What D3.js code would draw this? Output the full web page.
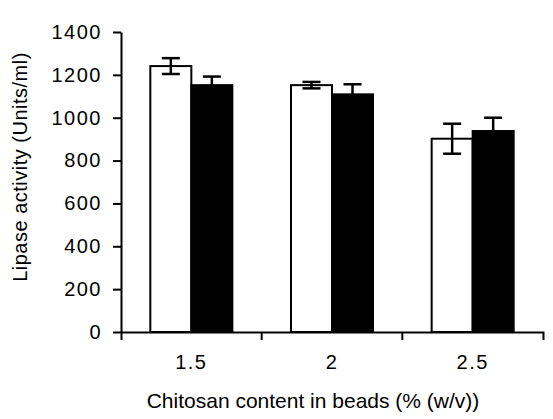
<!DOCTYPE html>
<html>
<head>
<meta charset="utf-8">
<script src="https://cdn.jsdelivr.net/npm/d3@7"></script>
<style>
  body { margin: 0; background: #fff; }
  svg { display: block; }
  text { font-family: "Liberation Sans", Arial, sans-serif; fill: #000; }
</style>
</head>
<body>
<div id="chart"></div>
<script>
// chitosan content categories
var categories = ["1.5", "2", "2.5"];
// series names (open and filled bars)
var seriesKeys = ["open", "filled"];
// lipase activity values (Units/ml)
var openValues = [1241, 1152, 902];
var openErrors = [37, 15, 70];
var filledValues = [1152, 1109, 938];
var filledErrors = [40, 47, 62];
var yTicks = [0, 200, 400, 600, 800, 1000, 1200, 1400];

function init() {
    var w = 553;
    var h = 419;
    var left = 121, right = 543, top = 32, bottom = 332;

    var dataset = [];
    categories.forEach(function(c, i) {
        dataset.push({cat: c, key: "open", value: openValues[i], err: openErrors[i]});
        dataset.push({cat: c, key: "filled", value: filledValues[i], err: filledErrors[i]});
    });

    var xScale = d3.scaleBand()
                   .domain(categories)
                   .range([left, right])
                   .padding(0);
    var x1 = d3.scaleBand()
               .domain(seriesKeys)
               .range([0, xScale.bandwidth()])
               .paddingInner(0)
               .paddingOuter(0.715);
    var yScale = d3.scaleLinear()
                   .domain([0, 1400])
                   .range([bottom, top]);

    var svg = d3.select("#chart")
                .append("svg")
                .attr("width", w)
                .attr("height", h);

    // bars
    svg.selectAll("rect.bar")
       .data(dataset)
       .enter()
       .append("rect")
       .attr("class", "bar")
       .attr("x", function(d) { return xScale(d.cat) + x1(d.key); })
       .attr("y", function(d) { return yScale(d.value); })
       .attr("width", x1.bandwidth())
       .attr("height", function(d) { return yScale(0) - yScale(d.value); })
       .attr("fill", function(d) { return d.key === "open" ? "#fff" : "#000"; })
       .attr("stroke", "#000")
       .attr("stroke-width", 2);

    // error bars
    var cap = 9;
    var eb = svg.selectAll("g.err")
                .data(dataset)
                .enter()
                .append("g")
                .attr("class", "err")
                .attr("stroke", "#000")
                .attr("stroke-width", 2.5);
    eb.append("line")
      .attr("x1", function(d) { return xScale(d.cat) + x1(d.key) + x1.bandwidth() / 2; })
      .attr("x2", function(d) { return xScale(d.cat) + x1(d.key) + x1.bandwidth() / 2; })
      .attr("y1", function(d) { return yScale(d.value + d.err); })
      .attr("y2", function(d) { return yScale(d.value - d.err); });
    eb.append("line")
      .attr("x1", function(d) { return xScale(d.cat) + x1(d.key) + x1.bandwidth() / 2 - cap; })
      .attr("x2", function(d) { return xScale(d.cat) + x1(d.key) + x1.bandwidth() / 2 + cap; })
      .attr("y1", function(d) { return yScale(d.value + d.err); })
      .attr("y2", function(d) { return yScale(d.value + d.err); });
    eb.append("line")
      .attr("x1", function(d) { return xScale(d.cat) + x1(d.key) + x1.bandwidth() / 2 - cap; })
      .attr("x2", function(d) { return xScale(d.cat) + x1(d.key) + x1.bandwidth() / 2 + cap; })
      .attr("y1", function(d) { return yScale(d.value - d.err); })
      .attr("y2", function(d) { return yScale(d.value - d.err); });

    // y axis
    var yAxis = d3.axisLeft(yScale)
                  .tickValues(yTicks)
                  .tickFormat(d3.format("d"))
                  .tickSize(8)
                  .tickSizeOuter(0)
                  .tickPadding(11);
    var gy = svg.append("g")
                .attr("transform", "translate(" + left + ",0)")
                .call(yAxis);
    gy.selectAll("path, line").attr("stroke", "#000").attr("stroke-width", 2);
    gy.selectAll("text")
      .style("font-size", "20px")
      .style("letter-spacing", "1.5px")
      .attr("font-family", null);

    // x axis: labels at band centres, ticks at band edges
    var xAxis = d3.axisBottom(xScale)
                  .tickSize(0)
                  .tickSizeOuter(8)
                  .tickPadding(23);
    var gx = svg.append("g")
                .attr("transform", "translate(0," + bottom + ")")
                .call(xAxis);
    gx.selectAll("path").attr("stroke", "#000").attr("stroke-width", 2);
    gx.selectAll("text")
      .style("font-size", "20px")
      .style("letter-spacing", "1.5px")
      .attr("font-family", null);
    gx.selectAll("line.edge")
      .data(categories.slice(1))
      .enter()
      .append("line")
      .attr("class", "edge")
      .attr("x1", function(d) { return xScale(d); })
      .attr("x2", function(d) { return xScale(d); })
      .attr("y1", 0)
      .attr("y2", 8)
      .attr("stroke", "#000")
      .attr("stroke-width", 2);

    // axis labels
    svg.append("text")
       .attr("text-anchor", "middle")
       .attr("x", 313)
       .attr("y", 408)
       .style("font-size", "21px")
       .text("Chitosan content in beads (% (w/v))");

    svg.append("text")
       .attr("text-anchor", "middle")
       .attr("transform", "translate(27,167) rotate(-90)")
       .style("font-size", "20px")
       .style("letter-spacing", "0.5px")
       .text("Lipase activity (Units/ml)");
}
window.onload = init;
</script>
</body>
</html>
